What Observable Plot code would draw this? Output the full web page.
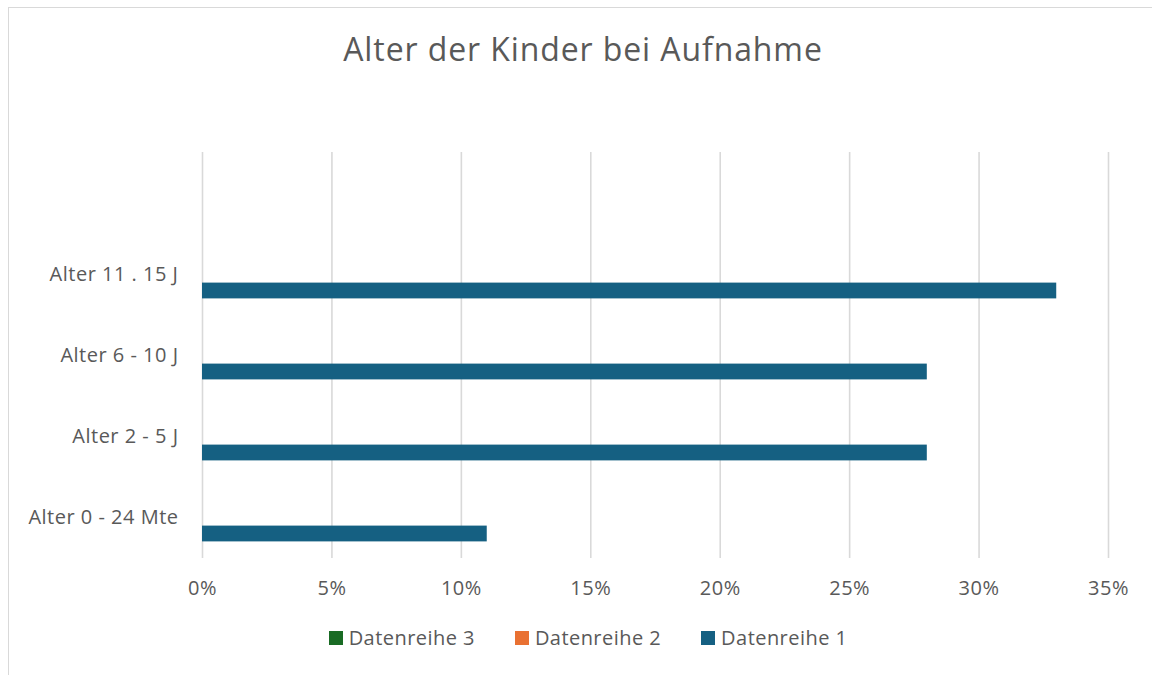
<!DOCTYPE html>
<html>
<head>
<meta charset="utf-8">
<script src="https://cdn.jsdelivr.net/npm/d3@7"></script>
<script src="https://cdn.jsdelivr.net/npm/@observablehq/plot@0.6"></script>
<style>
  html, body { margin: 0; padding: 0; background: #fff; width: 1152px; height: 675px; overflow: hidden; }
  body { font-family: "Open Sans", "Liberation Sans", sans-serif; color: #595959; position: relative; }
  #frame { position: absolute; left: 8px; top: 7px; width: 1160px; height: 680px; border-left: 1.5px solid #d9d9d9; border-top: 1.5px solid #d9d9d9; }
  #title { position: absolute; left: 0; top: 25px; width: 1166px; text-align: center; font-size: 32px; letter-spacing: 0.9px; color: #595959; line-height: 48px; }
  #chart { position: absolute; left: 0; top: 120px; }
  #legend { position: absolute; top: 624px; left: 0; width: 1176px; display: flex; justify-content: center; gap: 0; font-size: 20px; letter-spacing: 0.45px; color: #595959; line-height: 28px; }
  .item { display: flex; align-items: center; margin: 0 20px; }
  .sw { width: 14px; height: 14px; margin-right: 6px; }
</style>
</head>
<body>
<div id="frame"></div>
<div id="title">Alter der Kinder bei Aufnahme</div>
<div id="chart"></div>
<div id="legend"></div>
<script>
// Categories, top to bottom (first slot has no label and no data)
const categories = ["", "Alter 11 . 15 J", "Alter 6 - 10 J", "Alter 2 - 5 J", "Alter 0 - 24 Mte"];
const seriesNames = ["Datenreihe 3", "Datenreihe 2", "Datenreihe 1"];
const seriesColors = ["#196B24", "#E97132", "#156082"];
// Datenreihe 1 values (shares)
const datenreihe1 = [0.33, 0.28, 0.28, 0.11];
const datenreihe1Cats = ["Alter 11 . 15 J", "Alter 6 - 10 J", "Alter 2 - 5 J", "Alter 0 - 24 Mte"];
const xTicks = [0, 0.05, 0.10, 0.15, 0.20, 0.25, 0.30, 0.35];

const data = datenreihe1Cats.map((c, i) => ({category: c, value: datenreihe1[i], series: "Datenreihe 1"}));

const H = 488, mT = 32, mB = 50;
const band = (H - mT - mB) / categories.length;

const plot = Plot.plot({
  width: 1152,
  height: H,
  marginLeft: 202,
  marginRight: 44,
  marginTop: mT,
  marginBottom: mB,
  style: {fontFamily: '"Open Sans", "Liberation Sans", sans-serif', fontSize: "20px", color: "#595959", background: "transparent", overflow: "visible", letterSpacing: "0.5px"},
  x: {domain: [0, 0.35], ticks: xTicks},
  y: {domain: categories, padding: 0},
  marks: [
    Plot.gridX(xTicks, {stroke: "#d9d9d9", strokeOpacity: 1, strokeWidth: 1.6}),
    Plot.barX(data, {
      x: "value", y: "category", fill: "#156082",
      insetTop: band * 0.5985, insetBottom: band * 0.2045
    }),
    Plot.axisX(xTicks, {tickSize: 0, tickPadding: 22, tickFormat: d => Math.round(d * 100) + "%", fill: "#595959", fontSize: 20, label: null}),
    Plot.axisY({tickSize: 0, tickPadding: 24, fill: "#595959", fontSize: 20, label: null})
  ]
});
document.getElementById("chart").appendChild(plot);

const legend = document.getElementById("legend");
seriesNames.forEach((n, i) => {
  const it = document.createElement("div");
  it.className = "item";
  const sw = document.createElement("div");
  sw.className = "sw";
  sw.style.background = seriesColors[i];
  const t = document.createElement("span");
  t.textContent = n;
  it.appendChild(sw); it.appendChild(t);
  legend.appendChild(it);
});
</script>
</body>
</html>
